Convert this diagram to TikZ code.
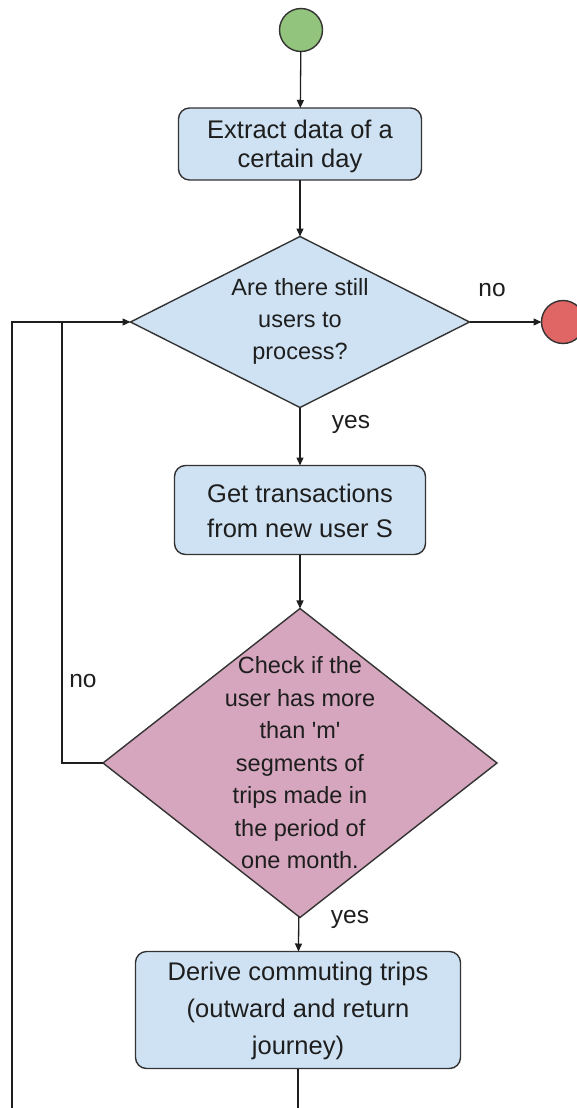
\documentclass[tikz,border=0pt]{standalone}
\usepackage{fontspec}
\setmainfont{Liberation Sans}
\usetikzlibrary{arrows.meta,shapes.geometric}

\definecolor{boxblue}{HTML}{CFE2F3}
\definecolor{checkpink}{HTML}{D5A6BD}
\definecolor{startgreen}{HTML}{93C47D}
\definecolor{stopred}{HTML}{E06666}
\definecolor{edge}{HTML}{333333}
\definecolor{ink}{HTML}{1E1E1E}

\tikzset{
  procbox/.style={draw=edge, line width=1.4pt, fill=boxblue, rounded corners=11pt,
    inner sep=0pt, outer sep=0pt},
  decision/.style={diamond, draw=edge, line width=1.4pt, inner sep=0pt, outer sep=0pt},
  terminal/.style={circle, draw=edge, line width=1.4pt, inner sep=0pt, outer sep=0pt,
    minimum size=43pt},
  caption/.style={text=ink, align=center, inner sep=0pt},
  flow/.style={draw=ink, line width=1.3pt, -{Triangle[length=8pt,width=7pt]}},
  plain/.style={draw=ink, line width=1.3pt},
  lbl/.style={text=ink, font=\fontsize{24.5}{28}\selectfont, inner sep=0pt}
}

\begin{document}
\begin{tikzpicture}[x=1pt, y=-1pt]
  \useasboundingbox (0,0) rectangle (577,1108);

  % start and stop markers
  \node[terminal, fill=startgreen] (start) at (301,30) {};
  \node[terminal, fill=stopred] (stop) at (563,322) {};

  % extraction step
  \node[procbox, minimum width=243pt, minimum height=72pt] (extract) at (300,144) {};
  \node[caption, font=\fontsize{25.5}{29}\selectfont] at (300,146) {Extract data of a\\certain day};

  % loop over users
  \node[decision, fill=boxblue, minimum width=339pt, minimum height=171pt] (more) at (300,322) {};
  \node[caption, font=\fontsize{23.5}{32}\selectfont] at (300,321) {Are there still\\users to\\process?};

  % per-user transactions
  \node[procbox, minimum width=251pt, minimum height=89pt] (fetch) at (300,510) {};
  \node[caption, font=\fontsize{25.5}{35}\selectfont] at (300,511) {Get transactions\\from new user S};

  % segment count check
  \node[decision, fill=checkpink, minimum width=394pt, minimum height=309pt] (check) at (300,763) {};
  \node[caption, font=\fontsize{23.5}{32.5}\selectfont] at (300,763) {Check if the\\user has more\\than \textquotesingle m\textquotesingle\\segments of\\trips made in\\the period of\\one month.};

  % commuting trip derivation
  \node[procbox, minimum width=325pt, minimum height=117pt] (derive) at (298,1010) {};
  \node[caption, font=\fontsize{25.5}{37}\selectfont] at (298,1011) {Derive commuting trips\\(outward and return\\journey)};

  % loop helpers
  \coordinate (tail) at (298,1120);
  \coordinate (back) at (12,1120);
  \coordinate (outer) at (12,322);
  \coordinate (inner) at (62,322);

  % connectors
  \draw[flow] (start) -- (extract);
  \draw[flow] (extract) -- (more);
  \draw[flow] (more) -- (stop);
  \draw[flow] (more) -- (fetch);
  \draw[flow] (fetch) -- (check);
  \draw[flow] (check) -- (derive);
  \draw[plain] (derive) -- (tail);
  \draw[plain] (check.west) -| (inner);
  \draw[flow] (back) -- (outer) -- (more.west);

  % branch labels
  \node[lbl] (noA) at (492,290) {no};
  \node[lbl] (yesA) at (351,424) {yes};
  \node[lbl] (noB) at (83,681) {no};
  \node[lbl] (yesB) at (350,919) {yes};
\end{tikzpicture}
\end{document}
